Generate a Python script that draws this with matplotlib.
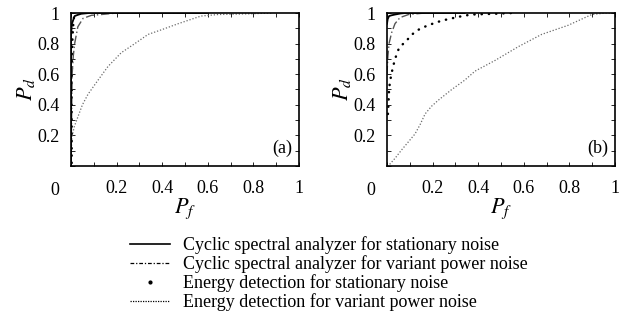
import numpy as np
import matplotlib
matplotlib.use("Agg")
import matplotlib.pyplot as plt
from matplotlib.lines import Line2D

plt.rcParams['font.family'] = ['Liberation Serif', 'DejaVu Serif']
plt.rcParams['mathtext.fontset'] = 'stix'

# panel (a)
a_csa_st_x = [0.0, 0.0, 0.004, 0.016, 0.03, 0.045, 0.08, 0.6]
a_csa_st_y = [0.0, 0.85, 0.93, 0.98, 0.988, 0.995, 1.0, 1.0]
a_csa_var_x = [0.0, 0.005, 0.01, 0.016, 0.03, 0.053, 0.09, 0.133, 0.2, 0.6]
a_csa_var_y = [0.0, 0.6, 0.72, 0.80, 0.91, 0.965, 0.985, 0.99, 1.0, 1.0]
a_ed_st_x = [0.003, 0.003, 0.003, 0.004, 0.005, 0.006, 0.008, 0.01, 0.013,
             0.017, 0.02]
a_ed_st_y = [0.02, 0.3, 0.55, 0.65, 0.74, 0.82, 0.88, 0.93, 0.97, 0.99, 1.0]
a_ed_var_x = [0.0, 0.004, 0.015, 0.03, 0.05, 0.075, 0.118, 0.162, 0.22, 0.28,
              0.338, 0.396, 0.47, 0.57, 0.645, 0.79, 0.88]
a_ed_var_y = [0.05, 0.19, 0.26, 0.32, 0.40, 0.47, 0.56, 0.65, 0.74, 0.80,
              0.86, 0.89, 0.93, 0.98, 0.99, 0.995, 1.0]

# panel (b)
b_csa_st_x = [0.0, 0.003, 0.009, 0.02, 0.035, 0.06, 0.08, 0.34]
b_csa_st_y = [0.93, 0.96, 0.98, 0.985, 0.99, 0.997, 1.0, 1.0]
b_csa_var_x = [0.0, 0.004, 0.009, 0.02, 0.035, 0.057, 0.094, 0.167, 0.25]
b_csa_var_y = [0.6, 0.72, 0.80, 0.87, 0.93, 0.97, 0.99, 1.0, 1.0]
b_ed_st_x = [0.004, 0.006, 0.009, 0.013, 0.018, 0.025, 0.032, 0.04, 0.05,
             0.065, 0.086, 0.11, 0.137, 0.165, 0.2, 0.24, 0.284, 0.33, 0.37,
             0.47, 0.55]
b_ed_st_y = [0.34, 0.39, 0.50, 0.55, 0.59, 0.64, 0.68, 0.72, 0.76, 0.79,
             0.82, 0.86, 0.89, 0.91, 0.93, 0.95, 0.965, 0.98, 0.99, 0.995,
             1.0]
b_ed_var_x = [0.0, 0.013, 0.035, 0.064, 0.095, 0.123, 0.145, 0.167, 0.195,
              0.225, 0.284, 0.34, 0.386, 0.474, 0.576, 0.678, 0.795, 0.898,
              0.96, 1.0]
b_ed_var_y = [0.0, 0.013, 0.05, 0.105, 0.16, 0.21, 0.27, 0.34, 0.39,
              0.43, 0.50, 0.56, 0.62, 0.69, 0.78, 0.86, 0.92, 0.99,
              1.0, 1.0]

labels = ["Cyclic spectral analyzer for stationary noise",
          "Cyclic spectral analyzer for variant power noise",
          "Energy detection for stationary noise",
          "Energy detection for variant power noise"]

grey = '#555555'
light_grey = '#6a6a6a'
fs = 13

fig = plt.figure(figsize=(6.27, 3.2), dpi=100)
ax_a = fig.add_axes([71/627, 1-166/320, 228/627, 153/320])
ax_b = fig.add_axes([387/627, 1-166/320, 228/627, 153/320])

panels = [
    (ax_a, "(a)", a_csa_st_x, a_csa_st_y, a_csa_var_x, a_csa_var_y,
     a_ed_st_x, a_ed_st_y, a_ed_var_x, a_ed_var_y),
    (ax_b, "(b)", b_csa_st_x, b_csa_st_y, b_csa_var_x, b_csa_var_y,
     b_ed_st_x, b_ed_st_y, b_ed_var_x, b_ed_var_y),
]

for ax, tag, sx, sy, vx, vy, ex, ey, dx, dy in panels:
    ax.plot(dx, dy, linestyle=(0, (1, 1.5)), color=light_grey, lw=0.9)
    ax.plot(ex, ey, linestyle=(0, (0.1, 2.8)), dash_capstyle='round',
            color='black', lw=1.8)
    ax.plot(vx, vy, linestyle=(0, (6, 2, 1, 2)), color=grey, lw=1.0)
    ax.plot(sx, sy, '-', color='black', lw=1.3)
    ax.set_xlim(0, 1)
    ax.set_ylim(0, 1)
    ax.set_xticks(np.arange(0, 1.01, 0.2))
    ax.set_xticklabels(['', '0.2', '0.4', '0.6', '0.8', '1'])
    ax.set_yticks(np.arange(0, 1.01, 0.2))
    ax.set_yticklabels(['', '0.2', '0.4', '0.6', '0.8', '1'])
    ax.set_xticks(np.arange(0.1, 1.0, 0.2), minor=True)
    ax.set_yticks(np.arange(0.1, 1.0, 0.2), minor=True)
    ax.tick_params(which='both', direction='in', top=True, right=True,
                   labelsize=fs, length=3, width=0.6)
    ax.tick_params(axis='x', pad=10)
    ax.tick_params(axis='y', pad=8)
    for sp in ax.spines.values():
        sp.set_linewidth(1.2)
    ax.text(-0.07, -0.105, '0', transform=ax.transAxes, fontsize=fs,
            ha='center', va='top')
    ax.text(0.97, 0.06, tag, transform=ax.transAxes, fontsize=fs,
            ha='right', va='bottom')
    ax.set_xlabel('$P_f$', fontsize=16)
    ax.set_ylabel('$P_d$', fontsize=16)
    ax.xaxis.set_label_coords(0.5, -0.2)
    ax.yaxis.set_label_coords(-0.15, 0.5)

handles = [
    Line2D([], [], color='black', lw=1.2),
    Line2D([], [], color='black', lw=0.9, linestyle=(0, (3, 1.5, 1, 1.5))),
    Line2D([], [], color='black', linestyle='none', marker='o', ms=2),
    Line2D([], [], color='black', lw=0.9, linestyle=(0, (1, 1))),
]
fig.legend(handles, labels, loc='upper left', bbox_to_anchor=(130/627, 1-236/320),
           frameon=False, fontsize=fs, handlelength=2.2, handletextpad=0.75,
           labelspacing=0.07, borderpad=0, borderaxespad=0)

fig.savefig('out.png', dpi=100)
